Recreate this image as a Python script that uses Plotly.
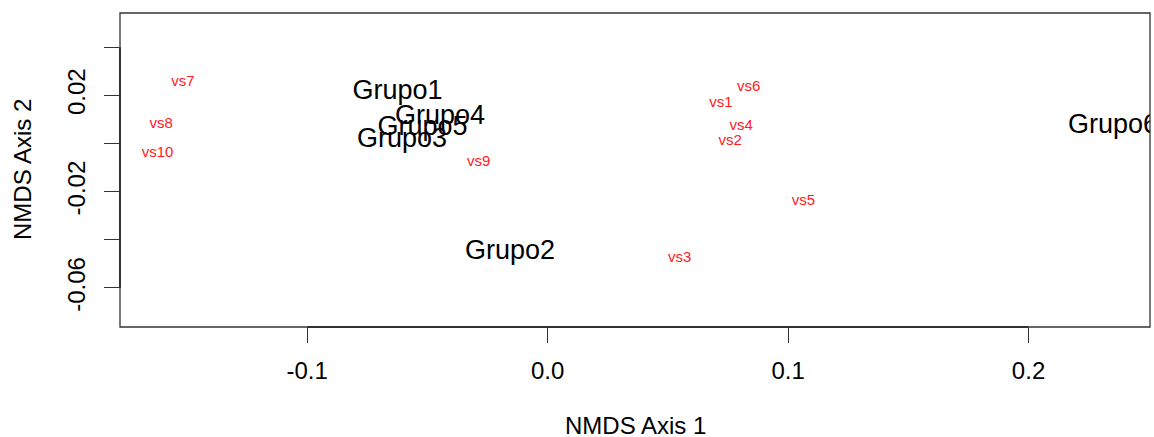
import plotly.graph_objects as go

# ---- data ----
species_labels = ["vs1", "vs2", "vs3", "vs4", "vs5", "vs6", "vs7", "vs8", "vs9", "vs10"]
species_x = [0.0721, 0.0759, 0.0549, 0.0805, 0.1064, 0.0836, -0.1516, -0.1607, -0.0287, -0.1622]
species_y = [0.0169, 0.0008, -0.0475, 0.0073, -0.0240, 0.0233, 0.0256, 0.0081, -0.0077, -0.0040]

group_labels = ["Grupo1", "Grupo2", "Grupo3", "Grupo4", "Grupo5", "Grupo6"]
group_x = [-0.0624, -0.0156, -0.0605, -0.0447, -0.0520, 0.2351]
group_y = [0.0214, -0.0452, 0.0015, 0.0110, 0.0065, 0.0073]

x_tickvals = [-0.1, 0.0, 0.1, 0.2]
x_ticktext = ["-0.1", "0.0", "0.1", "0.2"]
y_tickvals = [0.04, 0.02, 0.0, -0.02, -0.04, -0.06]
y_ticktext = ["", "0.02", "", "-0.02", "", "-0.06"]

x_title = "NMDS Axis 1"
y_title = "NMDS Axis 2"

FONT = "Liberation Sans, Arial, Helvetica, sans-serif"

fig = go.Figure()
fig.add_trace(go.Scatter(
    x=species_x, y=species_y, text=species_labels, mode="text",
    textposition="middle center",
    textfont=dict(family=FONT, size=15, color="#ff2020"),
    cliponaxis=True, showlegend=False, hoverinfo="skip"))
fig.add_trace(go.Scatter(
    x=group_x, y=group_y, text=group_labels, mode="text",
    textposition="middle center",
    textfont=dict(family=FONT, size=27, color="black"),
    cliponaxis=True, showlegend=False, hoverinfo="skip"))

fig.update_layout(
    width=1154, height=437,
    margin=dict(l=120, r=4, t=13, b=110),
    paper_bgcolor="white", plot_bgcolor="white",
    font=dict(family=FONT, size=24, color="black"),
    xaxis=dict(range=[-0.1778, 0.2505], tickvals=x_tickvals, ticktext=x_ticktext,
               ticks="outside", ticklen=15, tickwidth=1, tickcolor="#333",
               showgrid=False, zeroline=False, showline=False,
               tickfont=dict(size=24), ticklabelstandoff=7),
    yaxis=dict(range=[-0.0762, 0.0542], tickvals=y_tickvals, ticktext=y_ticktext,
               ticks="outside", ticklen=15, tickwidth=1, tickcolor="#333",
               tickangle=-90,
               showgrid=False, zeroline=False, showline=False,
               tickfont=dict(size=24), ticklabelstandoff=9),
    shapes=[
        dict(type="rect", xref="paper", yref="paper", x0=0, x1=1, y0=0, y1=1,
             line=dict(color="#333", width=1.3)),
        dict(type="line", xref="x", yref="paper", x0=-0.1, x1=0.2, y0=0, y1=0,
             line=dict(color="#222", width=1.6)),
        dict(type="line", xref="paper", yref="y", x0=0, x1=0, y0=-0.06, y1=0.04,
             line=dict(color="#222", width=1.6)),
    ],
    annotations=[
        dict(text=x_title, xref="paper", yref="paper", x=0.5, y=0, yshift=-98,
             showarrow=False, xanchor="center", yanchor="middle",
             font=dict(size=24)),
        dict(text=y_title, xref="paper", yref="paper", x=0, y=0.5, xshift=-98,
             showarrow=False, xanchor="center", yanchor="middle", textangle=-90,
             font=dict(size=24)),
    ],
)

fig.write_html(
    "out.html",
    config={"displayModeBar": False, "staticPlot": True},
    post_script="document.body.style.margin='0';document.body.style.overflow='hidden';",
)
